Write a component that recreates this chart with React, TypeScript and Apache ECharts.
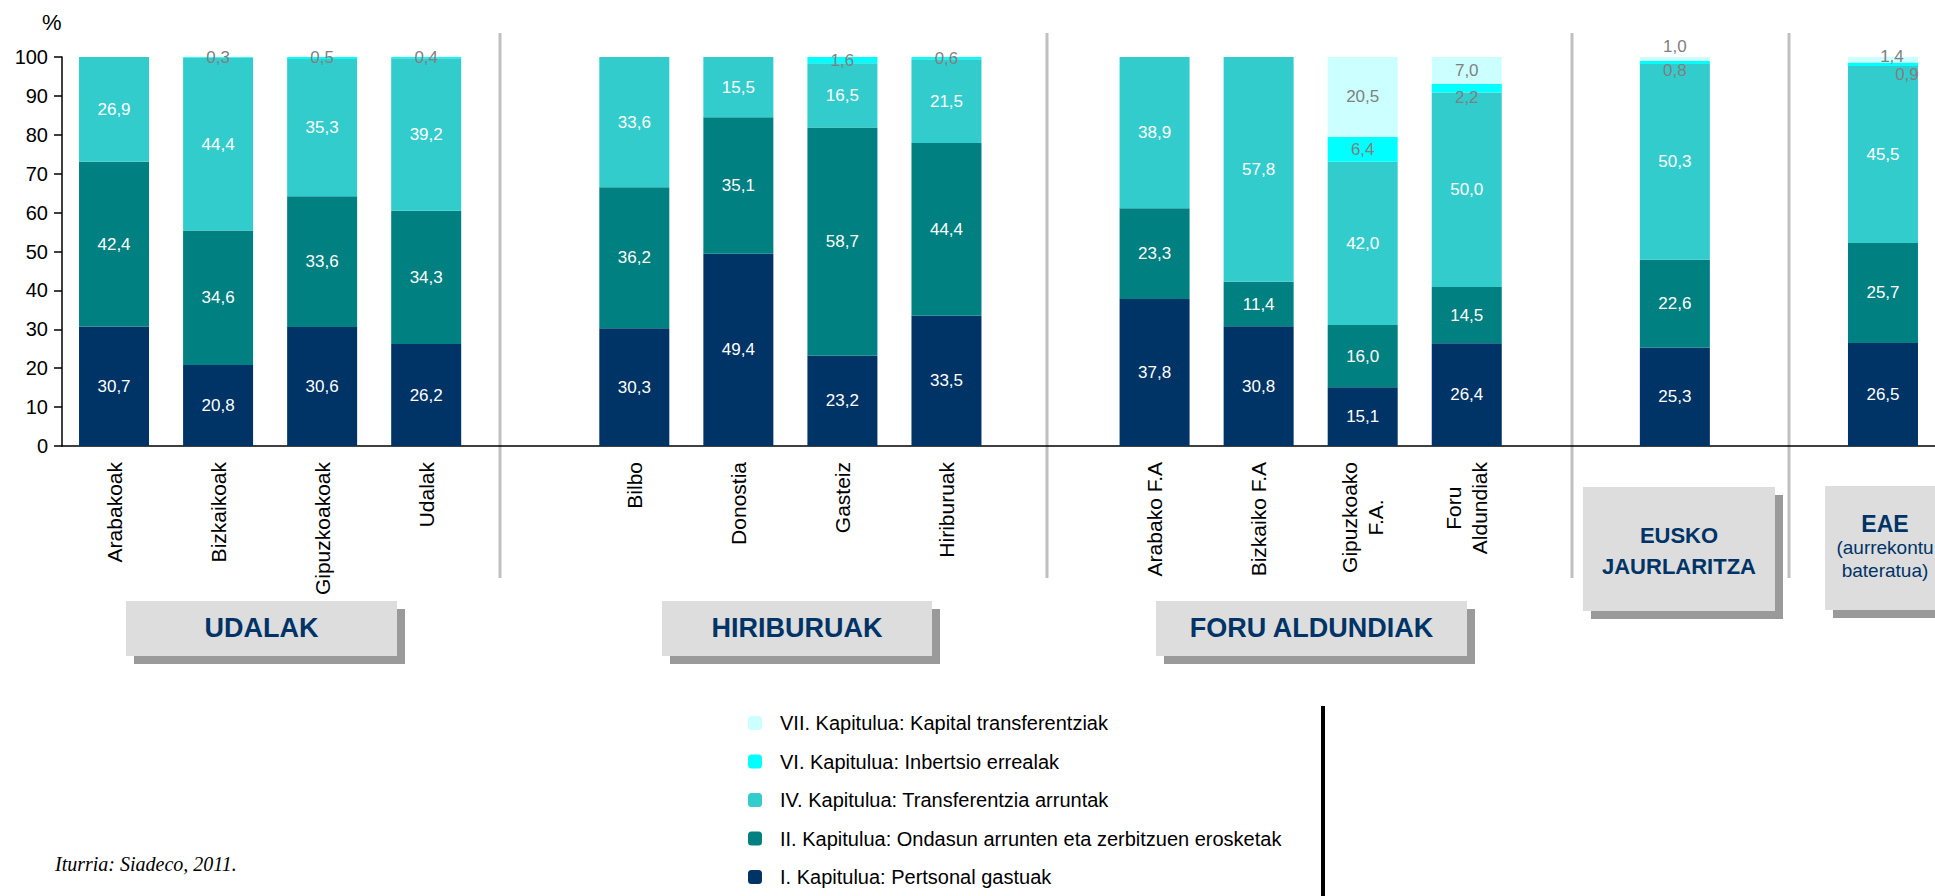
import React, { useEffect, useRef } from 'react';
import * as echarts from 'echarts';

// ---------- DATA ----------
const categories = [
  'Arabakoak', 'Bizkaikoak', 'Gipuzkoakoak', 'Udalak', 'gap1',
  'Bilbo', 'Donostia', 'Gasteiz', 'Hiriburuak', 'gap2',
  'Arabako F.A', 'Bizkaiko F.A', 'Gipuzkoako\nF.A.', 'Foru\nAldundiak', 'gap3',
  'Eusko Jaurlaritza', 'gap4', 'EAE',
];
const unlabeledCategories = ['gap1', 'gap2', 'gap3', 'gap4', 'Eusko Jaurlaritza', 'EAE'];

const seriesNames = [
  'I. Kapitulua: Pertsonal gastuak',
  'II. Kapitulua: Ondasun arrunten eta zerbitzuen erosketak',
  'IV. Kapitulua: Transferentzia arruntak',
  'VI. Kapitulua: Inbertsio errealak',
  'VII. Kapitulua: Kapital transferentziak',
];
const kap1 = [30.7, 20.8, 30.6, 26.2, null, 30.3, 49.4, 23.2, 33.5, null, 37.8, 30.8, 15.1, 26.4, null, 25.3, null, 26.5];
const kap2 = [42.4, 34.6, 33.6, 34.3, null, 36.2, 35.1, 58.7, 44.4, null, 23.3, 11.4, 16.0, 14.5, null, 22.6, null, 25.7];
const kap4 = [26.9, 44.4, 35.3, 39.2, null, 33.6, 15.5, 16.5, 21.5, null, 38.9, 57.8, 42.0, 50.0, null, 50.3, null, 45.5];
const kap6 = [null, 0.3, 0.5, 0.4, null, null, null, 1.6, 0.6, null, null, null, 6.4, 2.2, null, 0.8, null, 0.9];
const kap7 = [null, null, null, null, null, null, null, null, null, null, null, null, 20.5, 7.0, null, 1.0, null, 1.4];

const yMin = 0;
const yMax = 100;
const yInterval = 10;

const groupTitles = ['UDALAK', 'HIRIBURUAK', 'FORU ALDUNDIAK'];
const sourceText = 'Iturria: Siadeco, 2011.';

// ---------- STYLE ----------
const FONT = 'Arial, "Liberation Sans", sans-serif';
const colors = ['#003366', '#008080', '#33cccc', '#00ffff', '#ccffff'];
const labelColors = ['#ffffff', '#ffffff', '#ffffff', '#808080', '#808080'];
// label nudges for the tiny segments: key "series-index"
const labelOffsets: Record<string, number[]> = {
  '3-13': [0, 9],
  '3-15': [0, 8],
  '4-15': [0, -12],
  '3-17': [24, 10],
  '4-17': [9, -3],
};

const fmt = (v: number) => v.toFixed(1).replace('.', ',');

function box(x: number, y: number, w: number, h: number, children: any[]) {
  return {
    type: 'group',
    children: [
      { type: 'rect', shape: { x: x + 8, y: y + 8, width: w, height: h }, style: { fill: '#9a9a9a' } },
      { type: 'rect', shape: { x, y, width: w, height: h }, style: { fill: '#dddddd' } },
      ...children,
    ],
  };
}

function boxText(x: number, y: number, text: string, size: number, bold: boolean) {
  return {
    type: 'text',
    x,
    y,
    style: {
      text,
      fill: '#003366',
      font: `${bold ? 'bold ' : ''}${size}px ${FONT}`,
      textAlign: 'center',
      textVerticalAlign: 'middle',
    },
  };
}

export default function App() {
  const ref = useRef<HTMLDivElement>(null);

  useEffect(() => {
    if (!ref.current) return;
    const chart = echarts.init(ref.current, undefined, { renderer: 'svg' });
    const allSeries = [kap1, kap2, kap4, kap6, kap7];

    const series = allSeries.map((vals, si) => ({
      name: seriesNames[si],
      type: 'bar',
      stack: 'total',
      barWidth: 70,
      itemStyle: { color: colors[si] },
      label: {
        show: true,
        position: 'inside',
        color: labelColors[si],
        fontSize: 17,
        fontFamily: FONT,
        formatter: (p: any) => fmt(Number(p.value)),
      },
      data: vals.map((v, i) => {
        if (v == null) return null;
        const off = labelOffsets[`${si}-${i}`];
        return off ? { value: v, label: { offset: off } } : { value: v };
      }),
    }));

    const separatorsX = [500, 1047, 1572, 1789];

    const graphic: any[] = [
      {
        type: 'text',
        left: 42,
        top: 11,
        style: { text: '%', font: `22px ${FONT}`, fill: '#000' },
      },
      ...separatorsX.map((x) => ({
        type: 'line',
        shape: { x1: x, y1: 33, x2: x, y2: 578 },
        style: { stroke: '#c0c0c0', lineWidth: 3 },
      })),
      box(126, 601, 271, 55, [boxText(261.5, 628, groupTitles[0], 27, true)]),
      box(662, 601, 270, 55, [boxText(797, 628, groupTitles[1], 27, true)]),
      box(1156, 601, 311, 55, [boxText(1311.5, 628, groupTitles[2], 27, true)]),
      box(1583, 487, 192, 124, [
        boxText(1679, 535, 'EUSKO', 22, true),
        boxText(1679, 566, 'JAURLARITZA', 22, true),
      ]),
      box(1825, 486, 200, 124, [
        boxText(1885, 524, 'EAE', 23, true),
        boxText(1885, 547, '(aurrekontu', 19, false),
        boxText(1885, 570, 'bateratua)', 19, false),
      ]),
      {
        type: 'line',
        shape: { x1: 1323, y1: 706, x2: 1323, y2: 896 },
        style: { stroke: '#000', lineWidth: 4 },
      },
      {
        type: 'text',
        left: 55,
        top: 854,
        style: {
          text: sourceText,
          font: `italic 20px "Liberation Serif", "DejaVu Serif", serif`,
          fill: '#000',
        },
      },
    ];

    chart.setOption({
      animation: false,
      backgroundColor: '#ffffff',
      grid: { left: 62, top: 57, bottom: 450, right: -4, containLabel: false },
      legend: {
        orient: 'vertical',
        left: 748,
        top: 713,
        padding: 0,
        itemWidth: 14,
        itemHeight: 14,
        itemGap: 18.5,
        icon: 'roundRect',
        selectedMode: false,
        data: [seriesNames[4], seriesNames[3], seriesNames[2], seriesNames[1], seriesNames[0]],
        textStyle: {
          fontSize: 20,
          lineHeight: 20,
          color: '#000',
          fontFamily: FONT,
          padding: [0, 0, 0, 13],
        },
      },
      xAxis: {
        type: 'category',
        data: categories,
        axisTick: { show: false },
        axisLine: { show: true, lineStyle: { color: '#000', width: 1.5 } },
        axisLabel: {
          interval: 0,
          rotate: 90,
          margin: 16,
          color: '#000',
          fontSize: 21,
          fontFamily: FONT,
          formatter: (value: string) =>
            unlabeledCategories.includes(value)
              ? ''
              : value.split('\n').map((s) => `{c|${s}}`).join('\n'),
          rich: {
            c: { fontSize: 21, lineHeight: 26, align: 'center', color: '#000', fontFamily: FONT },
          },
        },
      },
      yAxis: {
        type: 'value',
        min: yMin,
        max: yMax,
        interval: yInterval,
        splitLine: { show: false },
        axisLine: { show: true, lineStyle: { color: '#000', width: 1.5 } },
        axisTick: { show: true, length: 8, lineStyle: { color: '#000', width: 1.5 } },
        axisLabel: { color: '#000', fontSize: 20, fontFamily: FONT, margin: 14 },
      },
      series,
      graphic,
    });

    return () => chart.dispose();
  }, []);

  return (
    <div
      ref={ref}
      style={{ position: 'absolute', left: 0, top: 0, width: 1935, height: 896, overflow: 'hidden' }}
    />
  );
}
